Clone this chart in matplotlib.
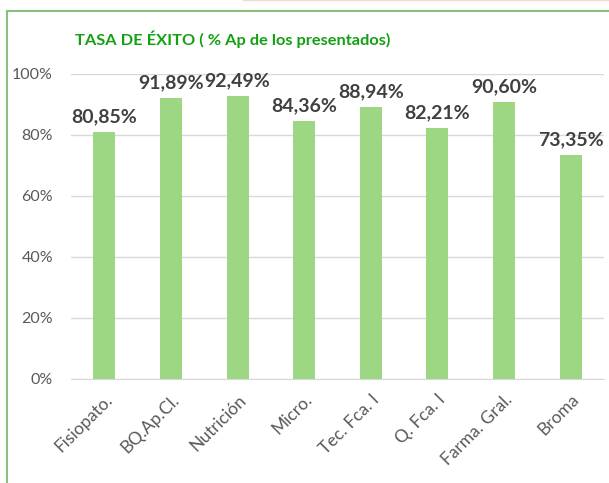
import matplotlib.pyplot as plt
from matplotlib.lines import Line2D

# datos
asignaturas = ["Fisiopato.", "BQ.Ap.Cl.", "Nutrición", "Micro.", "Tec. Fca. I",
               "Q. Fca. I", "Farma. Gral.", "Broma"]
tasa_exito = [80.85, 91.89, 92.49, 84.36, 88.94, 82.21, 90.60, 73.35]
ticks_y = [0, 20, 40, 60, 80, 100]
etiquetas_y = ["0%", "20%", "40%", "60%", "80%", "100%"]

plt.rcParams["font.family"] = ["Lato", "DejaVu Sans"]

fig = plt.figure(figsize=(6.09, 4.83), dpi=100)
ax = fig.add_axes([71 / 609, 1 - 379 / 483, 533 / 609, 305.5 / 483])

x = list(range(len(asignaturas)))
barras = ax.bar(x, tasa_exito, width=0.33, color="#9ed784", zorder=3)

for xi, v in zip(x, tasa_exito):
    txt = ("%.2f%%" % v).replace(".", ",")
    ax.annotate(txt, (xi, v), xytext=(0, 10), textcoords="offset pixels",
                ha="center", va="baseline", fontsize=14, fontweight="bold",
                color="#404040", annotation_clip=False)

ax.set_xlim(-0.5, len(asignaturas) - 0.5)
ax.set_ylim(0, 100)
ax.set_yticks(ticks_y)
ax.set_yticklabels(etiquetas_y, fontsize=11.5)
ax.set_xticks(x)
ax.set_xticklabels(asignaturas, rotation=45, ha="right", rotation_mode="anchor",
                   fontsize=12.5)
ax.tick_params(axis="both", length=0, labelcolor="#595959")
ax.tick_params(axis="y", pad=13)
ax.tick_params(axis="x", pad=9)
ax.grid(axis="y", color="#d9d9d9", linewidth=1, zorder=0)
for s in ["top", "right", "left"]:
    ax.spines[s].set_visible(False)
ax.spines["bottom"].set_color("#d9d9d9")

fig.text(75 / 609, 1 - 45 / 483, "TASA DE ÉXITO ( % Ap de los presentados)",
         fontsize=11.8, fontweight="bold", color="#13a013", ha="left", va="baseline")

# borde del area del grafico
fig.add_artist(Line2D([7 / 609, 7 / 609], [0, 1 - 11 / 483], color="#8cbf7c", lw=1.5))
fig.add_artist(Line2D([7 / 609, 1], [1 - 11 / 483, 1 - 11 / 483], color="#8cbf7c", lw=1.5))
fig.add_artist(Line2D([243 / 609, 1], [0.999, 0.999], color="#f6d6d6", lw=1))

fig.savefig("out.png", dpi=100)
